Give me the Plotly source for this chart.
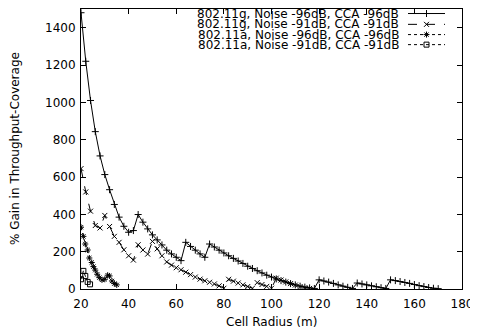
import plotly.graph_objects as go

# ---- data ----
g96_x = [20, 22, 24, 26, 28, 30, 32, 34, 36, 38, 40, 42, 44, 46, 48, 50, 52, 54, 56, 58, 60, 62,
         64, 66, 68, 70, 72, 74, 76, 78, 80, 82, 84, 86, 88, 90, 92, 94, 96, 98, 100, 102, 104,
         106, 108, 110, 112, 114, 116, 118, 120, 122, 124, 126, 128, 130, 132, 134, 136, 138,
         140, 142, 144, 146, 148, 150, 152, 154, 156, 158, 160, 162, 164, 166, 168, 170]
g96_y = [1480, 1220, 1010, 843, 713, 613, 532, 453, 385, 336, 304, 313, 399, 358, 322, 290, 263,
         236, 208, 188, 170, 152, 250, 228, 208, 188, 170, 241, 225, 208, 193, 178, 164, 150, 137,
         122, 110, 98, 86, 74, 64, 54, 45, 37, 29, 22, 15, 10, 6, 3, 49, 43, 37, 30, 22, 15, 9, 3,
         32, 27, 22, 17, 12, 7, 3, 49, 45, 40, 35, 30, 24, 18, 13, 8, 4, 2]

g91_x = [20, 22, 24, 26, 28, 30, 32, 34, 36, 38, 40, 42, 44, 46, 48, 50, 52, 54, 56, 58, 60, 62,
         64, 66, 68, 70, 72, 74, 76, 78, 80, 82, 84, 86, 88, 90, 92, 94, 96, 98, 100, 102, 104,
         106, 108, 110, 112, 114, 116]
g91_y = [645, 520, 417, 340, 327, 394, 335, 282, 250, 210, 178, 155, 237, 209, 187, 255, 215, 178,
         145, 128, 114, 103, 90, 77, 64, 53, 44, 36, 27, 17, 4, 52, 42, 32, 22, 13, 4, 34, 24, 14,
         4, 58, 48, 38, 29, 21, 13, 7, 3]

a96_x = [20, 21, 21.8, 22.8, 23.5, 24.5, 25.2, 26, 26.8, 27.7, 28.8, 30, 31.2, 32, 33, 34, 35]
a96_y = [331, 282, 241, 209, 166, 142, 120, 101, 79, 61, 49, 52, 74, 70, 43, 29, 22]

a91_x = [20, 21, 21.8, 22.8, 23.8]
a91_y = [52, 97, 70, 38, 25]

names = ["802.11g, Noise -96dB, CCA -96dB",
         "802.11g, Noise -91dB, CCA -91dB",
         "802.11a, Noise -96dB, CCA -96dB",
         "802.11a, Noise -91dB, CCA -91dB"]
dashes = ["solid", "dash", "dot", "dot"]
symbols = ["cross-thin-open", "x-thin-open", "asterisk-open", "square-open"]
sizes = [5, 5, 5, 5]

FONT = "DejaVu Sans"
fig = go.Figure()

series = [(g96_x, g96_y), (g91_x, g91_y), (a96_x, a96_y), (a91_x, a91_y)]
for (xs, ys), nm, ds, sy, sz in zip(series, names, dashes, symbols, sizes):
    fig.add_trace(go.Scatter(
        x=xs, y=ys, mode="lines+markers", name=nm, showlegend=False,
        line=dict(color="black", width=1, dash=ds),
        marker=dict(symbol=sy, size=sz, color="black", line=dict(color="black", width=1)),
    ))

# ---- legend drawn on an overlay pixel-coordinate axis ----
leg_y = [13.5, 24.3, 34.5, 44.5]
for nm, ds, sy, sz, ly in zip(names, dashes, symbols, sizes, leg_y):
    fig.add_trace(go.Scatter(
        x=[408, 445], y=[ly, ly], mode="lines", xaxis="x2", yaxis="y2", showlegend=False,
        line=dict(color="black", width=1, dash=ds), hoverinfo="skip"))
    fig.add_trace(go.Scatter(
        x=[426.5], y=[ly], mode="markers", xaxis="x2", yaxis="y2", showlegend=False,
        marker=dict(symbol=sy, size=sz, color="black", line=dict(color="black", width=1)),
        hoverinfo="skip"))
    fig.add_annotation(x=401, y=ly, xref="x2", yref="y2", text=nm, showarrow=False,
                       xanchor="right", yanchor="middle",
                       font=dict(family=FONT, size=12, color="black"))

axis_common = dict(showline=True, linecolor="black", linewidth=1, mirror="ticks",
                   ticks="inside", ticklen=5, tickcolor="black", showgrid=False,
                   zeroline=False, tickfont=dict(family=FONT, size=12, color="black"))

# page body has an 8px default margin: figure is sized/offset to compensate
fig.update_layout(
    width=470, height=323,
    margin=dict(l=73, r=16, t=1, b=42, pad=0),
    paper_bgcolor="white", plot_bgcolor="white",
    font=dict(family=FONT, size=12, color="black"),
    showlegend=False,
    xaxis=dict(range=[20, 180], tick0=20, dtick=20, ticklabelstandoff=4, **axis_common),
    yaxis=dict(range=[0, 1500], tick0=0, dtick=200, ticklabelstandoff=2, **axis_common),
    xaxis2=dict(range=[81, 462], overlaying="x", visible=False, fixedrange=True),
    yaxis2=dict(range=[288, 9], overlaying="y", visible=False, fixedrange=True),
)

fig.add_annotation(x=0.5, y=0, xref="paper", yref="paper", yshift=-33, text="Cell Radius (m)",
                   showarrow=False, xanchor="center", yanchor="middle",
                   font=dict(family=FONT, size=12, color="black"))
fig.add_annotation(x=0, y=0.5, xref="paper", yref="paper", xshift=-66,
                   text="% Gain in Throughput-Coverage", textangle=-90,
                   showarrow=False, xanchor="center", yanchor="middle",
                   font=dict(family=FONT, size=12, color="black"))

fig.write_html("out.html")
